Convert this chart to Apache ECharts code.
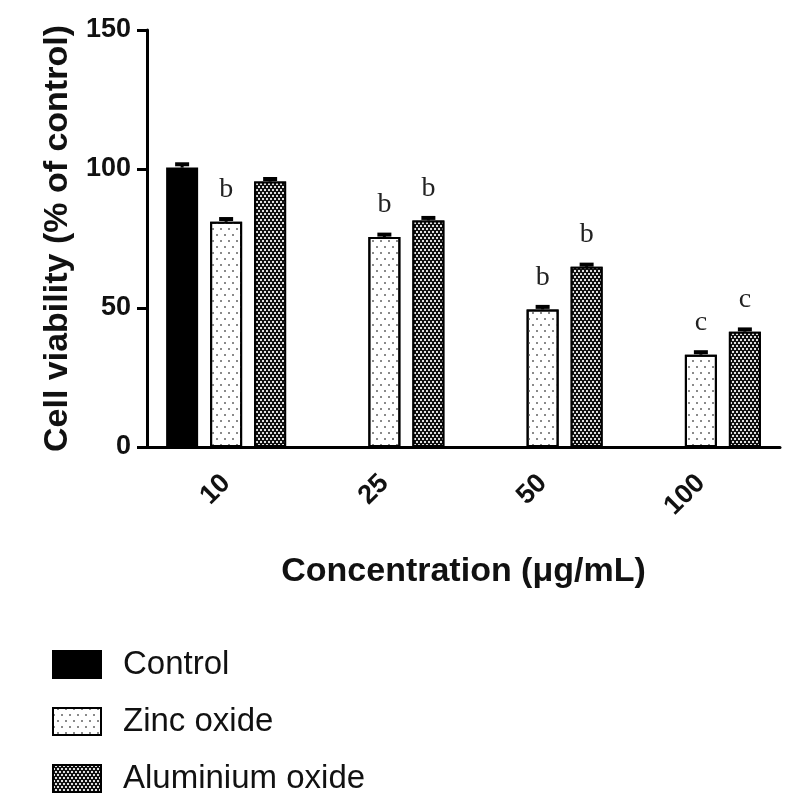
<!DOCTYPE html>
<html>
<head>
<meta charset="utf-8">
<script src="https://cdn.jsdelivr.net/npm/echarts@6/dist/echarts.min.js"></script>
<style>
html,body{margin:0;padding:0;background:#fff;}
#chart{width:788px;height:809px;}
</style>
</head>
<body>
<div id="chart"></div>
<script>
// ---- data ----
const categories = ['10', '25', '50', '100'];
const seriesNames = ['Control', 'Zinc oxide', 'Aluminium oxide'];
const controlValues = [100.5, null, null, null];
const zincValues = [81, 75.5, 49.5, 33.2];
const aluminiumValues = [95.5, 81.5, 64.8, 41.5];
const controlSem = [1.2, null, null, null];
const zincSem = [1.0, 0.9, 0.9, 0.9];
const aluminiumSem = [0.9, 0.9, 0.8, 0.8];
const zincLetters = ['b', 'b', 'b', 'c'];
const aluminiumLetters = ['', 'b', 'b', 'c'];
const yTicks = { min: 0, max: 150, interval: 50 };

// ---- style ----
const BAR_W = 32;
const BAR_GAP_PX = 12;
const CAP_W = 14;
const FONT = 'Liberation Sans, Arial, sans-serif';

const zincDecal = {
  symbol: 'rect', symbolSize: 1, color: '#8a8a8a',
  dashArrayX: [[2, 6], [0, 4, 2, 2]], dashArrayY: [2, 4], rotation: 0
};
const aluDecal = {
  symbol: 'rect', symbolSize: 1, color: '#e0e0e0',
  dashArrayX: [[2, 2], [0, 2, 2, 0]], dashArrayY: [2, 1], rotation: 0
};

function letterLabel(letters) {
  return {
    show: true, position: 'top', distance: 18,
    fontFamily: 'Liberation Serif, Times New Roman, serif',
    fontSize: 28, color: '#222',
    formatter: p => letters[p.dataIndex] || ''
  };
}

function errSeries(values, sems, slot) {
  const data = [];
  values.forEach((v, i) => { if (v != null) data.push([i, v, sems[i]]); });
  return {
    type: 'custom', silent: true, z: 5,
    data: data,
    encode: { x: 0, y: 1 },
    renderItem: function (params, api) {
      const i = api.value(0), v = api.value(1), s = api.value(2);
      const p0 = api.coord([i, v]);
      const p1 = api.coord([i, v + s]);
      const x = p0[0] + (slot - 1) * (BAR_W + BAR_GAP_PX);
      return {
        type: 'group',
        children: [
          { type: 'line', shape: { x1: x, y1: p0[1], x2: x, y2: p1[1] }, style: { stroke: '#000', lineWidth: 3 } },
          { type: 'line', shape: { x1: x - CAP_W / 2, y1: p1[1], x2: x + CAP_W / 2, y2: p1[1] }, style: { stroke: '#000', lineWidth: 4 } }
        ]
      };
    }
  };
}

const chart = echarts.init(document.getElementById('chart'), null, { renderer: 'canvas' });
chart.setOption({
  backgroundColor: '#fff',
  animation: false,
  grid: { left: 147, right: 8, top: 30, bottom: 362 },
  legend: {
    data: seriesNames,
    orient: 'vertical', left: 52, top: 648, padding: 0, height: 161,
    icon: 'rect',
    itemWidth: 48, itemHeight: 27, itemGap: 24,
    textStyle: { fontFamily: FONT, fontSize: 33, color: '#111', padding: [0, 0, 0, 17], lineHeight: 30 }
  },
  xAxis: {
    type: 'category', data: categories,
    axisLine: { lineStyle: { color: '#000', width: 3 } },
    axisTick: { alignWithLabel: true, length: 12, lineStyle: { width: 3, color: '#000' } },
    axisLabel: { rotate: 45, margin: 32, fontFamily: FONT, fontWeight: 'bold', fontSize: 27, color: '#111' },
    name: 'Concentration (μg/mL)', nameLocation: 'middle', nameGap: 108,
    nameTextStyle: { fontFamily: FONT, fontWeight: 'bold', fontSize: 34, color: '#111' }
  },
  yAxis: {
    type: 'value', min: yTicks.min, max: yTicks.max, interval: yTicks.interval,
    axisLine: { show: true, lineStyle: { color: '#000', width: 3 } },
    axisTick: { show: true, length: 10, lineStyle: { width: 3, color: '#000' } },
    axisLabel: { margin: 16, fontFamily: FONT, fontWeight: 'bold', fontSize: 27, color: '#111' },
    splitLine: { show: false },
    name: 'Cell viability (% of control)', nameLocation: 'middle', nameGap: 68,
    nameTextStyle: { fontFamily: FONT, fontWeight: 'bold', fontSize: 34, color: '#111' }
  },
  series: [
    {
      name: seriesNames[0], type: 'bar', data: controlValues,
      barWidth: BAR_W, barGap: (BAR_GAP_PX / BAR_W * 100) + '%',
      itemStyle: { color: '#000', borderColor: '#000', borderWidth: 2 }
    },
    {
      name: seriesNames[1], type: 'bar', data: zincValues,
      barWidth: BAR_W, barGap: (BAR_GAP_PX / BAR_W * 100) + '%',
      itemStyle: { color: '#fff', borderColor: '#000', borderWidth: 2, decal: zincDecal },
      label: letterLabel(zincLetters)
    },
    {
      name: seriesNames[2], type: 'bar', data: aluminiumValues,
      barWidth: BAR_W, barGap: (BAR_GAP_PX / BAR_W * 100) + '%',
      itemStyle: { color: '#111', borderColor: '#000', borderWidth: 2, decal: aluDecal },
      label: letterLabel(aluminiumLetters)
    },
    errSeries(controlValues, controlSem, 0),
    errSeries(zincValues, zincSem, 1),
    errSeries(aluminiumValues, aluminiumSem, 2)
  ]
});
</script>
</body>
</html>
